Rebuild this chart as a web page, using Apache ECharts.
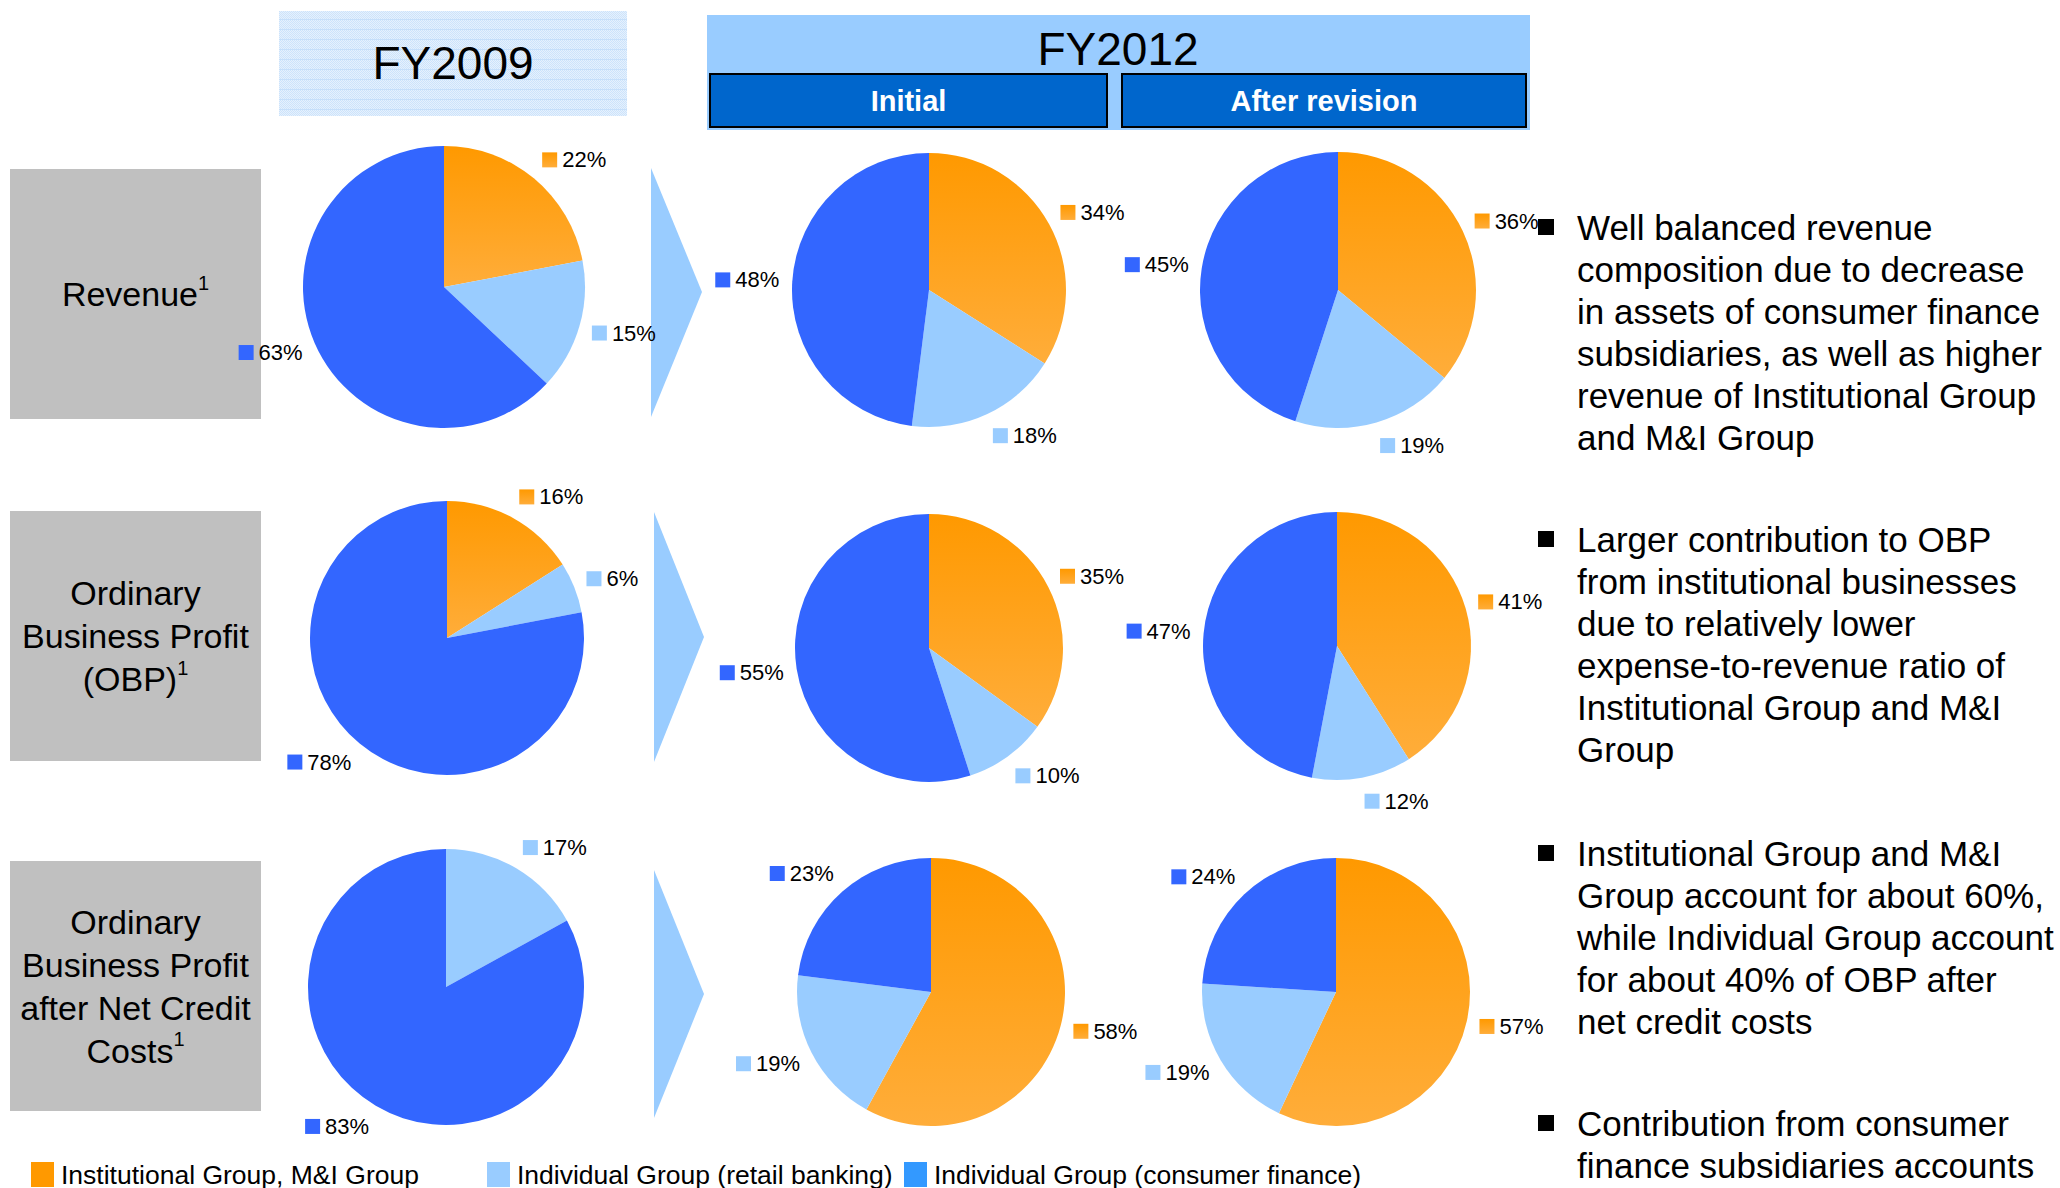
<!DOCTYPE html>
<html>
<head>
<meta charset="utf-8">
<script src="https://cdn.jsdelivr.net/npm/echarts@6/dist/echarts.min.js"></script>
<style>
html,body{margin:0;padding:0;background:#fff;}
#chart{width:2060px;height:1188px;}
</style>
</head>
<body>
<div id="chart"></div>
<script>
// ---------- DATA ----------
const categories = [
  'Institutional Group, M&I Group',
  'Individual Group (retail banking)',
  'Individual Group (consumer finance)'
];
const periodHeaders = ['FY2009', 'FY2012'];
const subHeaders = ['Initial', 'After revision'];
const rowTitles = [
  ['Revenue'],
  ['Ordinary', 'Business Profit', '(OBP)'],
  ['Ordinary', 'Business Profit', 'after Net Credit', 'Costs']
];
// values per row: [Institutional, Retail, Consumer finance] in %
const fy2009 = [[22, 15, 63], [16, 6, 78], [0, 17, 83]];
const fy2012Initial = [[34, 18, 48], [35, 10, 55], [58, 19, 23]];
const fy2012Revised = [[36, 19, 45], [41, 12, 47], [57, 19, 24]];
const bullets = [
  ['Well balanced revenue', 'composition due to decrease', 'in assets of consumer finance', 'subsidiaries, as well as higher', 'revenue of Institutional Group', 'and M&I Group'],
  ['Larger contribution to OBP', 'from institutional businesses', 'due to relatively lower', 'expense-to-revenue ratio of', 'Institutional Group and M&I', 'Group'],
  ['Institutional Group and M&I', 'Group account for about 60%,', 'while Individual Group account', 'for about 40% of OBP after', 'net credit costs'],
  ['Contribution from consumer', 'finance subsidiaries accounts']
];

// ---------- STYLE / LAYOUT ----------
const FONT = '"Liberation Sans", Arial, Helvetica, sans-serif';
function orangeGradient() {
  return new echarts.graphic.LinearGradient(0, 0, 0, 1, [
    { offset: 0, color: '#FF9900' }, { offset: 1, color: '#FFAD3A' }
  ]);
}
const sliceColors = [orangeGradient(), '#99CCFF', '#3366FF'];
const squareColors = [orangeGradient(), '#99CCFF', '#3366FF'];
const legendColors = ['#FF9900', '#99CCFF', '#3399FF'];
const legendLeft = [31, 487, 904];

// pie geometry per [row][column]
const pieGeom = [
  [{ c: [444, 287], r: 141 }, { c: [929, 290], r: 137 }, { c: [1338, 290], r: 138 }],
  [{ c: [447, 638], r: 137 }, { c: [929, 648], r: 134 }, { c: [1337, 646], r: 134 }],
  [{ c: [446, 987], r: 138 }, { c: [931, 992], r: 134 }, { c: [1336, 992], r: 134 }]
];
const grayBoxes = [[10, 169, 251, 250], [10, 511, 251, 250], [10, 861, 251, 250]];
const arrows = [
  [[651, 168], [702, 292], [651, 417]],
  [[654, 512], [704, 637], [654, 762]],
  [[654, 870], [704, 994], [654, 1118]]
];
const bulletTops = [227, 539, 853, 1123];

// dotted texture for the FY2009 header
function makeTexture() {
  const cv = document.createElement('canvas');
  cv.width = 8; cv.height = 10;
  const g = cv.getContext('2d');
  g.fillStyle = '#E6F1FD'; g.fillRect(0, 0, 8, 10);
  g.fillStyle = '#CCE3FB';
  for (let y = 0; y < 10; y++) for (let x = 0; x < 8; x++) if ((x + y) % 2 === 0) g.fillRect(x, y, 1, 1);
  g.fillStyle = '#C6DFFA'; g.fillRect(0, 9, 8, 1);
  return cv.toDataURL();
}

// ---------- BUILD ----------
const labelRich = {
  s0: { width: 15, height: 15, backgroundColor: squareColors[0] },
  s1: { width: 15, height: 15, backgroundColor: squareColors[1] },
  s2: { width: 15, height: 15, backgroundColor: squareColors[2] },
  v: { fontSize: 22, fontFamily: FONT, color: '#000', padding: [0, 0, 0, 5] }
};

function makePie(values, geom) {
  const data = categories.map((name, i) => ({
    name: name, value: values[i],
    itemStyle: { color: sliceColors[i] }
  })).filter(d => d.value > 0);
  const vals = data.map(d => d.value);
  return {
    type: 'pie',
    center: geom.c,
    radius: geom.r,
    startAngle: 90,
    clockwise: true,
    avoidLabelOverlap: false,
    silent: true,
    animation: false,
    emphasis: { disabled: true },
    itemStyle: { borderWidth: 0 },
    label: {
      show: true,
      position: 'outside',
      distanceToLabelLine: 0,
      formatter: p => '{s' + categories.indexOf(p.name) + '|}{v|' + p.value + '%}',
      rich: labelRich
    },
    labelLine: { show: false, length: 13, length2: 0 },
    // push each label away vertically so its nearest edge sits just outside the slice
    labelLayout: function (params) {
      const total = vals.reduce((a, b) => a + b, 0);
      let cum = 0;
      for (let k = 0; k < params.dataIndex; k++) cum += vals[k];
      const mid = (cum + vals[params.dataIndex] / 2) / total * Math.PI * 2;
      return { dy: -Math.cos(mid) * params.labelRect.height / 2 };
    },
    data: data
  };
}

const series = [];
for (let r = 0; r < 3; r++) {
  series.push(makePie(fy2009[r], pieGeom[r][0]));
  series.push(makePie(fy2012Initial[r], pieGeom[r][1]));
  series.push(makePie(fy2012Revised[r], pieGeom[r][2]));
}

const graphics = [];
// header boxes
graphics.push({ type: 'rect', shape: { x: 279, y: 11, width: 348, height: 105 }, style: { fill: { image: makeTexture(), repeat: 'repeat' } } });
graphics.push({ type: 'text', style: { text: periodHeaders[0], x: 453, y: 63, font: '46px ' + FONT, fill: '#000', align: 'center', verticalAlign: 'middle' } });
graphics.push({ type: 'rect', shape: { x: 707, y: 15, width: 823, height: 115 }, style: { fill: '#99CCFF' } });
graphics.push({ type: 'text', style: { text: periodHeaders[1], x: 1118, y: 49, font: '46px ' + FONT, fill: '#000', align: 'center', verticalAlign: 'middle' } });
const subBoxes = [[710, 74, 397, 53], [1122, 74, 404, 53]];
subBoxes.forEach((b, i) => {
  graphics.push({ type: 'rect', shape: { x: b[0], y: b[1], width: b[2], height: b[3] }, style: { fill: '#0066CC', stroke: '#000', lineWidth: 2 } });
  graphics.push({ type: 'text', style: { text: subHeaders[i], x: b[0] + b[2] / 2, y: b[1] + b[3] / 2, font: 'bold 29px ' + FONT, fill: '#fff', align: 'center', verticalAlign: 'middle' } });
});
// row title boxes
rowTitles.forEach((lines, i) => {
  const b = grayBoxes[i];
  graphics.push({ type: 'rect', shape: { x: b[0], y: b[1], width: b[2], height: b[3] }, style: { fill: '#C0C0C0' } });
  const txt = lines.map((l, k) => '{t|' + l + '}' + (k === lines.length - 1 ? '{sup|1}' : '')).join('\n');
  graphics.push({
    type: 'text',
    style: {
      text: txt, x: b[0] + b[2] / 2, y: b[1] + b[3] / 2, align: 'center', verticalAlign: 'middle',
      rich: {
        t: { fontSize: 34, fontFamily: FONT, color: '#000', lineHeight: 43 },
        sup: { fontSize: 20, fontFamily: FONT, color: '#000', lineHeight: 20, verticalAlign: 'top' }
      }
    }
  });
});
// arrows
arrows.forEach(pts => {
  graphics.push({ type: 'polygon', shape: { points: pts }, style: { fill: '#99CCFF' } });
});
// bullets
bullets.forEach((lines, i) => {
  const cy = bulletTops[i];
  graphics.push({ type: 'rect', shape: { x: 1538, y: cy - 8, width: 16, height: 16 }, style: { fill: '#000' } });
  graphics.push({
    type: 'text',
    style: { text: lines.join('\n'), x: 1577, y: cy - 21, font: '35px ' + FONT, lineHeight: 42, fill: '#000', align: 'left', verticalAlign: 'top' }
  });
});

const legends = categories.map((name, i) => ({
  data: [{ name: name, itemStyle: { color: legendColors[i] } }],
  left: legendLeft[i],
  top: 1161,
  padding: 0,
  icon: 'rect',
  itemWidth: 23,
  itemHeight: 25,
  selectedMode: false,
  textStyle: { fontSize: 26.5, fontFamily: FONT, color: '#000', padding: [0, 0, 0, 2] }
}));

const chart = echarts.init(document.getElementById('chart'), null, { renderer: 'svg', width: 2060, height: 1188 });
chart.setOption({
  backgroundColor: '#fff',
  animation: false,
  legend: legends,
  graphic: { elements: graphics },
  series: series
});
</script>
</body>
</html>
